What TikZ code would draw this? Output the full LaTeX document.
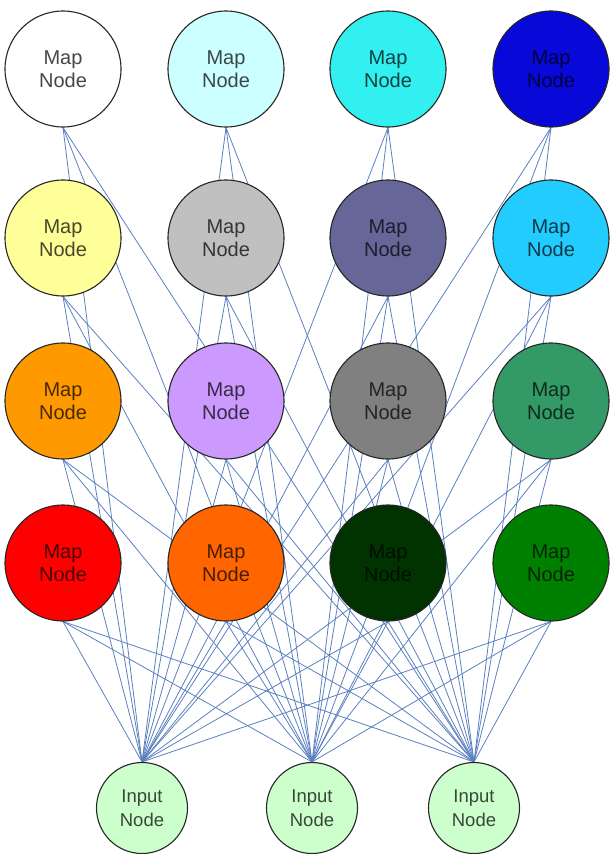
\documentclass[tikz,border=0pt]{standalone}
\usepackage{fontspec}
\setmainfont{Liberation Sans}
\usetikzlibrary{backgrounds}

% node fills
\definecolor{cWhite}{HTML}{FFFFFF}
\definecolor{cPaleCyan}{HTML}{CCFFFF}
\definecolor{cCyan}{HTML}{33F0F0}
\definecolor{cBlue}{HTML}{0808D8}
\definecolor{cPaleYellow}{HTML}{FFFF99}
\definecolor{cSilver}{HTML}{C0C0C0}
\definecolor{cSlate}{HTML}{666699}
\definecolor{cSky}{HTML}{22CCFF}
\definecolor{cOrange}{HTML}{FF9900}
\definecolor{cLavender}{HTML}{CC99FF}
\definecolor{cGrey}{HTML}{808080}
\definecolor{cSea}{HTML}{339966}
\definecolor{cRed}{HTML}{FF0000}
\definecolor{cDeepOrange}{HTML}{FF6600}
\definecolor{cDarkGreen}{HTML}{003300}
\definecolor{cGreen}{HTML}{008000}
\definecolor{cInput}{HTML}{CCFFCC}
\definecolor{link}{HTML}{5A80C0}

\tikzset{
  mapnode/.style={circle, draw=black!85, line width=1.1pt, minimum size=116pt,
    inner sep=0pt, align=center, font=\fontsize{20}{23}\selectfont,
    text opacity=0.72},
  inputnode/.style={circle, draw=black!85, line width=1.1pt, fill=cInput,
    minimum size=91pt, inner sep=0pt, align=center,
    font=\fontsize{18.5}{24}\selectfont, text opacity=0.72},
  wire/.style={draw=link, line width=0.8pt},
}

\begin{document}
\begin{tikzpicture}[x=1pt, y=-1pt]
\useasboundingbox (0,0) rectangle (611,854);

% 4 x 4 grid of map nodes
\foreach \c/\x in {1/63, 2/226, 3/388, 4/551}{
  \foreach \r/\y in {1/69, 2/238, 3/401, 4/563}{
    \coordinate (p-\r-\c) at (\x,\y);
  }
}
\node[mapnode, fill=cWhite]       (m-1-1) at (p-1-1) {Map\\Node};
\node[mapnode, fill=cPaleCyan]    (m-1-2) at (p-1-2) {Map\\Node};
\node[mapnode, fill=cCyan]        (m-1-3) at (p-1-3) {Map\\Node};
\node[mapnode, fill=cBlue]        (m-1-4) at (p-1-4) {Map\\Node};
\node[mapnode, fill=cPaleYellow]  (m-2-1) at (p-2-1) {Map\\Node};
\node[mapnode, fill=cSilver]      (m-2-2) at (p-2-2) {Map\\Node};
\node[mapnode, fill=cSlate]       (m-2-3) at (p-2-3) {Map\\Node};
\node[mapnode, fill=cSky]         (m-2-4) at (p-2-4) {Map\\Node};
\node[mapnode, fill=cOrange]      (m-3-1) at (p-3-1) {Map\\Node};
\node[mapnode, fill=cLavender]    (m-3-2) at (p-3-2) {Map\\Node};
\node[mapnode, fill=cGrey]        (m-3-3) at (p-3-3) {Map\\Node};
\node[mapnode, fill=cSea]         (m-3-4) at (p-3-4) {Map\\Node};
\node[mapnode, fill=cRed]         (m-4-1) at (p-4-1) {Map\\Node};
\node[mapnode, fill=cDeepOrange]  (m-4-2) at (p-4-2) {Map\\Node};
\node[mapnode, fill=cDarkGreen]   (m-4-3) at (p-4-3) {Map\\Node};
\node[mapnode, fill=cGreen]       (m-4-4) at (p-4-4) {Map\\Node};

% input layer
\node[inputnode] (in-1) at (142,808) {Input\\Node};
\node[inputnode] (in-2) at (312,808) {Input\\Node};
\node[inputnode] (in-3) at (474,808) {Input\\Node};

% every input feeds every map node; links run behind the circles
\begin{scope}[on background layer]
  \foreach \k in {1,2,3}{
    \foreach \r in {1,2,3,4}{
      \foreach \c in {1,2,3,4}{
        \draw[wire] (in-\k.north) -- (m-\r-\c.south);
      }
    }
  }
\end{scope}
\end{tikzpicture}
\end{document}
